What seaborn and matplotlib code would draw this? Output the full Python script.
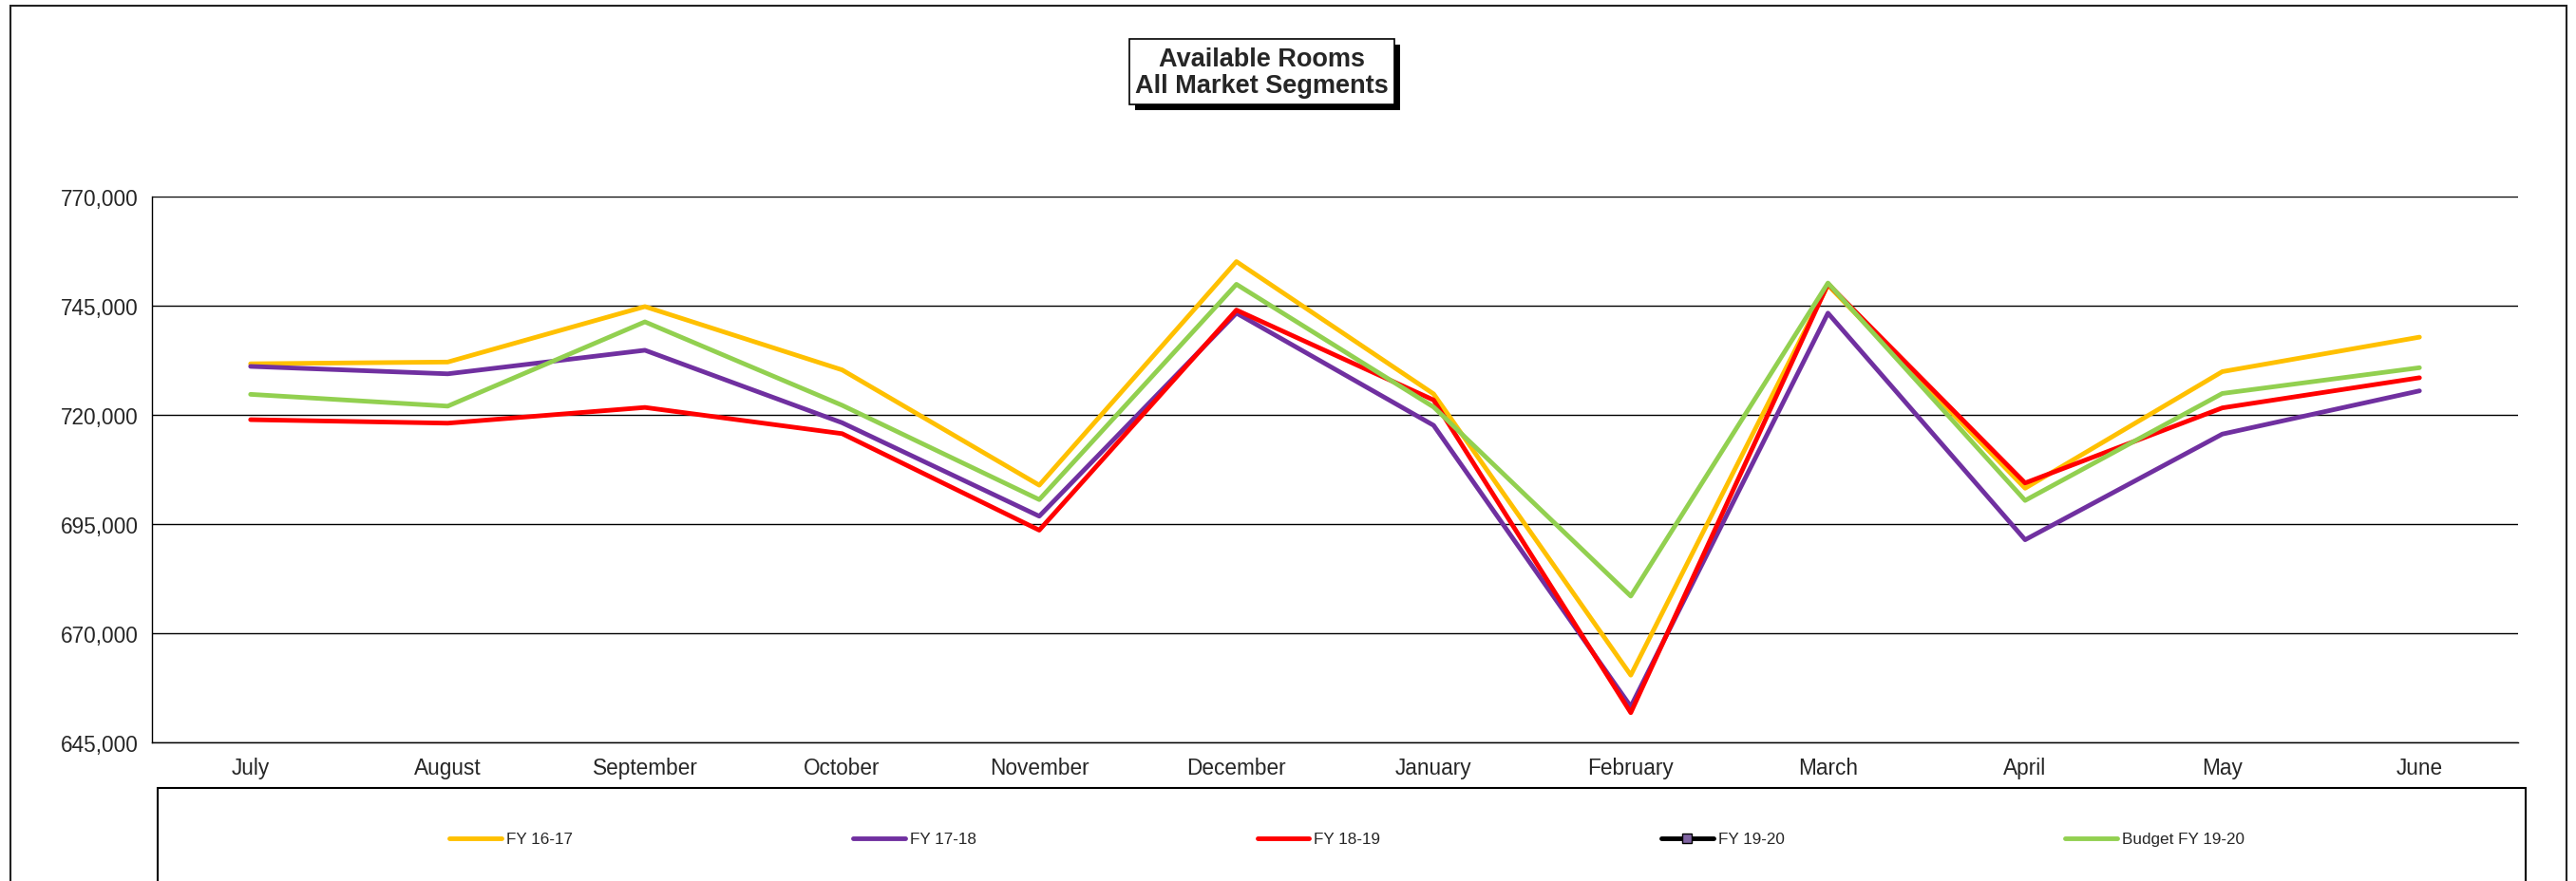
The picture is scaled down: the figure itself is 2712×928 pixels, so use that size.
import matplotlib
matplotlib.use("Agg")
import matplotlib.pyplot as plt
import pandas as pd
import seaborn as sns
from matplotlib.lines import Line2D
from matplotlib.patches import Rectangle
from matplotlib.ticker import FixedLocator, FuncFormatter

sns.set_style("white")
plt.rcParams["font.family"] = ["Liberation Sans", "DejaVu Sans"]

months = ["July", "August", "September", "October", "November", "December",
          "January", "February", "March", "April", "May", "June"]

fy_16_17 = [731700, 732100, 744800, 730300, 703900, 755100,
            724800, 660400, 749700, 703200, 729900, 737800]
fy_17_18 = [731100, 729400, 734800, 718200, 696800, 743300,
            717600, 653200, 743300, 691400, 715600, 725500]
fy_18_19 = [718900, 718100, 721700, 715700, 693600, 744000,
            723400, 651800, 750000, 704400, 721600, 728500]
fy_19_20 = [None] * 12  # no data yet
budget_19_20 = [724700, 722000, 741300, 722200, 700600, 749900,
                721800, 678500, 750200, 700400, 724900, 730800]

series_names = ["FY 16-17", "FY 17-18", "FY 18-19", "FY 19-20", "Budget FY 19-20"]
series_values = [fy_16_17, fy_17_18, fy_18_19, fy_19_20, budget_19_20]
colors = {"FY 16-17": "#FFC000", "FY 17-18": "#7030A0", "FY 18-19": "#FF0000",
          "FY 19-20": "#000000", "Budget FY 19-20": "#92D050"}

y_ticks = [645000, 670000, 695000, 720000, 745000, 770000]

frames = []
for name, vals in zip(series_names, series_values):
    frames.append(pd.DataFrame({"month": months, "rooms": vals, "series": name}))
df = pd.concat(frames, ignore_index=True).dropna(subset=["rooms"])
df["rooms"] = df["rooms"].astype(float)

W, H = 2712, 929
fig = plt.figure(figsize=(W / 100, H / 100), dpi=100)

# outer chart border
fig.add_artist(Rectangle((11 / W, -0.02), (2702 - 11) / W, 1.02 - 7 / H,
                         transform=fig.transFigure, fill=False, ec="#222222", lw=1.5))

ax = fig.add_axes([160 / W, 1 - 783 / H, (2651 - 160) / W, (783 - 208) / H])

sns.lineplot(data=df, x="month", y="rooms", hue="series",
             hue_order=[n for n in series_names if n != "FY 19-20"],
             palette=colors, sort=False, linewidth=3.5, legend=False, ax=ax)

ax.set_xlim(-0.5, len(months) - 0.5)
ax.set_ylim(y_ticks[0], y_ticks[-1])
ax.set_yticks(y_ticks)
ax.yaxis.set_major_formatter(FuncFormatter(lambda v, p: f"{v:,.0f}"))
ax.set_xticks(range(len(months)))
ax.set_xticklabels(months)
ax.xaxis.set_minor_locator(FixedLocator([i - 0.5 for i in range(len(months) + 1)]))
ax.tick_params(axis="x", which="major", length=0, labelsize=16.3, pad=11)
ax.tick_params(axis="x", which="minor", length=6, width=1, color="black", direction="out")
ax.tick_params(axis="y", length=6, width=1, color="black", direction="out", labelsize=16.3, pad=4)
ax.set_xlabel("")
ax.set_ylabel("")
ax.grid(axis="y", color="black", lw=1.0)
ax.grid(axis="x", visible=False)
for side in ["top", "right"]:
    ax.spines[side].set_visible(False)
for side in ["left", "bottom"]:
    ax.spines[side].set_color("black")
    ax.spines[side].set_linewidth(1.0)

# title box with shadow
fig.add_artist(Rectangle((1195 / W, 1 - 117 / H), (1468 - 1189) / W, (111 - 42) / H,
                         transform=fig.transFigure, fc="black", ec="black", lw=0))
fig.add_artist(Rectangle((1189 / W, 1 - 111 / H), (1468 - 1189) / W, (111 - 42) / H,
                         transform=fig.transFigure, fc="white", ec="black", lw=1.2))
fig.text((1189 + 1468) / 2 / W, 1 - 77 / H, "Available Rooms\nAll Market Segments",
         ha="center", va="center", fontsize=19.5, fontweight="bold", linespacing=1.15)

# legend box
fig.add_artist(Rectangle((166 / W, -0.02), (2659 - 166) / W, 0.02 + 1 - 831 / H,
                         transform=fig.transFigure, fill=False, ec="black", lw=1.5))
handles = []
for name in series_names:
    if name == "FY 19-20":
        handles.append(Line2D([], [], color="black", lw=3.5, marker="s", markersize=7,
                              markerfacecolor="#8064A2", markeredgecolor="black"))
    else:
        handles.append(Line2D([], [], color=colors[name], lw=3.5))
fig.legend(handles, series_names, loc="center", bbox_to_anchor=(1418 / W, 1 - 885 / H),
           ncol=5, frameon=False, fontsize=12.3, handlelength=3.2, handletextpad=0.3,
           columnspacing=17.3)

fig.savefig("out.png", dpi=100)
plt.close(fig)
